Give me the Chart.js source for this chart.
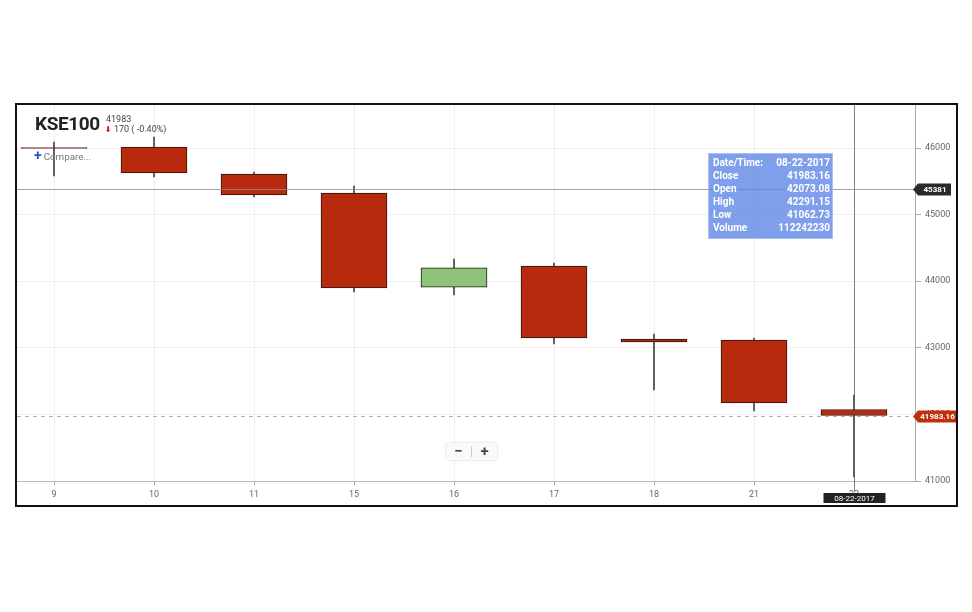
<!DOCTYPE html>
<html>
<head>
<meta charset="utf-8">
<script src="https://cdn.jsdelivr.net/npm/chart.js@4.4.1/dist/chart.umd.min.js"></script>
<style>
  html, body { margin: 0; padding: 0; background: #fff; font-family: Roboto, sans-serif; }
  body { width: 972px; height: 612px; position: relative; overflow: hidden; }
  #frame { position: absolute; left: 15px; top: 103px; width: 939px; height: 400px; border: 2px solid #111; }
  #frame canvas { display: block; }
  .abs { position: absolute; white-space: nowrap; }
  #title { left: 35px; top: 112px; font-size: 19px; font-weight: 700; color: #222; letter-spacing: -0.4px; }
  #last { left: 106px; top: 114px; font-size: 9px; color: #444; }
  #chg { left: 105px; top: 124px; font-size: 9px; color: #444; }
  #chg b { color: #e0161b; font-size: 8px; font-family: 'DejaVu Sans', sans-serif; }
  #compare { left: 34px; top: 147px; font-size: 9.8px; color: #777; }
  #compare b { color: #2457c9; font-size: 14px; margin-right: 2px; }
  #tip { left: 708px; top: 153px; width: 117px; height: 82px; padding: 2px 2px 0 4px;
         background: rgba(92, 132, 230, 0.78); border: 1px solid #a7c0f4;
         color: #fff; font-size: 10px; font-weight: 700; line-height: 13px; }
  #tip div { display: flex; justify-content: space-between; }
  #zoom { left: 446px; top: 443px; width: 51px; height: 17px; background: #fafafa;
          box-shadow: 0 0 2px rgba(0,0,0,0.25); border-radius: 2px; display: flex;
          font-size: 15px; font-weight: 700; color: #444; line-height: 16px; }
  #zoom span { flex: 1; text-align: center; }
  #zoom i { width: 1px; background: #ccc; margin: 3px 0; }
</style>
</head>
<body>
<div id="frame"><canvas id="chart"></canvas></div>
<div class="abs" id="title">KSE100</div>
<div class="abs" id="last">41983</div>
<div class="abs" id="chg"><b>⬇</b> 170 ( -0.40%)</div>
<div class="abs" id="compare"><b>+</b>Compare...</div>
<div class="abs" id="tip">
  <div><span>Date/Time:</span><span>08-22-2017</span></div>
  <div><span>Close</span><span>41983.16</span></div>
  <div><span>Open</span><span>42073.08</span></div>
  <div><span>High</span><span>42291.15</span></div>
  <div><span>Low</span><span>41062.73</span></div>
  <div><span>Volume</span><span>112242230</span></div>
</div>
<div class="abs" id="zoom"><span>−</span><i></i><span>+</span></div>
<script>
// candles (last one from the tooltip)
const categories = ['9', '10', '11', '15', '16', '17', '18', '21', '22'];
const openVals  = [46005, 46015, 45610, 45325, 43910, 44228, 43132, 43117, 42073.08];
const closeVals = [45995, 45625, 45295, 43900, 44200, 43147, 43087, 42171, 41983.16];
const highVals  = [46090, 46165, 45640, 45430, 44333, 44273, 43207, 43147, 42291.15];
const lowVals   = [45580, 45565, 45265, 43838, 43793, 43057, 42366, 42051, 41062.73];
const yTicks = [41000, 42000, 43000, 44000, 45000, 46000];
const crossValue = 45381;
const lastClose = 41983.16;
const crossDate = '08-22-2017';

const RED = '#b82a0e';
const GREEN = '#8dc47a';

const bodies = categories.map((c, i) => ({ x: i, y: [openVals[i], closeVals[i]] }));
const wicks = categories.map((c, i) => ({ x: i, y: [lowVals[i], highVals[i]] }));
const bodyColors = categories.map((c, i) => closeVals[i] >= openVals[i] ? GREEN : RED);

function tag(ctx, x, y, w, h, fill, text) {
  // label box with an arrow on its left side
  ctx.beginPath();
  ctx.moveTo(x, y);
  ctx.lineTo(x + 5, y - h / 2);
  ctx.lineTo(x + w, y - h / 2);
  ctx.lineTo(x + w, y + h / 2);
  ctx.lineTo(x + 5, y + h / 2);
  ctx.closePath();
  ctx.fillStyle = fill;
  ctx.fill();
  ctx.fillStyle = '#fff';
  ctx.font = 'bold 8px Roboto';
  ctx.textAlign = 'center';
  ctx.textBaseline = 'middle';
  ctx.fillText(text, x + 3 + w / 2, y + 0.5);
}

const overlay = {
  id: 'overlay',
  afterDatasetsDraw(chart) {
    const { ctx, chartArea: a, scales: { x, y } } = chart;
    ctx.save();
    // last close dashed line
    const yl = Math.round(y.getPixelForValue(lastClose)) + 0.5;
    ctx.strokeStyle = '#d6a8a0';
    ctx.lineWidth = 1;
    ctx.setLineDash([4, 4]);
    ctx.beginPath(); ctx.moveTo(a.left, yl); ctx.lineTo(a.right, yl); ctx.stroke();
    ctx.setLineDash([]);
    // crosshair
    const xc = Math.round(x.getPixelForValue(categories.length - 1)) + 0.5;
    const yc = Math.round(y.getPixelForValue(crossValue)) + 0.5;
    ctx.strokeStyle = 'rgba(90,90,90,0.75)';
    ctx.beginPath(); ctx.moveTo(xc, a.top); ctx.lineTo(xc, a.bottom + 10); ctx.stroke();
    ctx.strokeStyle = 'rgba(140,140,140,0.8)';
    ctx.beginPath(); ctx.moveTo(a.left, yc); ctx.lineTo(a.right, yc); ctx.stroke();
    // axis tags
    tag(ctx, a.right - 2, yc, 38, 12, '#2b2b2b', String(crossValue));
    tag(ctx, a.right - 2, yl, 43, 12, '#c0300e', lastClose.toFixed(2));
    ctx.fillStyle = '#222';
    ctx.fillRect(xc - 31, a.bottom + 12, 62, 10);
    ctx.fillStyle = '#fff';
    ctx.font = '8px Roboto';
    ctx.textAlign = 'center';
    ctx.textBaseline = 'middle';
    ctx.fillText(crossDate, xc, a.bottom + 17.5);
    ctx.restore();
  }
};

new Chart(document.getElementById('chart'), {
  type: 'bar',
  data: {
    datasets: [
      {
        label: 'KSE100',
        data: bodies,
        backgroundColor: bodyColors,
        borderColor: '#2a1510',
        borderWidth: 1,
        borderSkipped: false,
        barThickness: 66,
        grouped: false,
        order: 0
      },
      {
        label: 'High/Low',
        data: wicks,
        backgroundColor: '#444',
        borderWidth: 0,
        barThickness: 1,
        grouped: false,
        order: 1
      }
    ]
  },
  options: {
    responsive: true,
    maintainAspectRatio: false,
    animation: false,
    layout: { padding: 0 },
    plugins: { legend: { display: false }, tooltip: { enabled: false } },
    scales: {
      x: {
        type: 'linear',
        offset: false,
        min: -0.37,
        max: 8.61,
        afterBuildTicks: s => { s.ticks = categories.map((c, i) => ({ value: i })); },
        afterFit: s => { s.height = 24; s.paddingLeft = 0; s.paddingRight = 0; },
        grid: { offset: false, color: '#efefef', tickColor: '#aaa', tickLength: 4 },
        border: { color: '#bbb' },
        ticks: {
          callback: v => categories[v],
          color: '#666',
          font: { family: 'Roboto', size: 9 },
          padding: 4,
          maxRotation: 0
        }
      },
      y: {
        position: 'right',
        min: 41000,
        max: 46646,
        afterBuildTicks: s => { s.ticks = yTicks.map(v => ({ value: v })); },
        afterFit: s => { s.width = 41; s.paddingTop = 0; s.paddingBottom = 0; },
        grid: { color: '#efefef', tickColor: '#aaa', tickLength: 6 },
        border: { color: '#aaa' },
        ticks: {
          callback: v => String(v),
          color: '#666',
          font: { family: 'Roboto', size: 9 },
          padding: 4
        }
      }
    }
  },
  plugins: [overlay]
});
</script>
</body>
</html>
